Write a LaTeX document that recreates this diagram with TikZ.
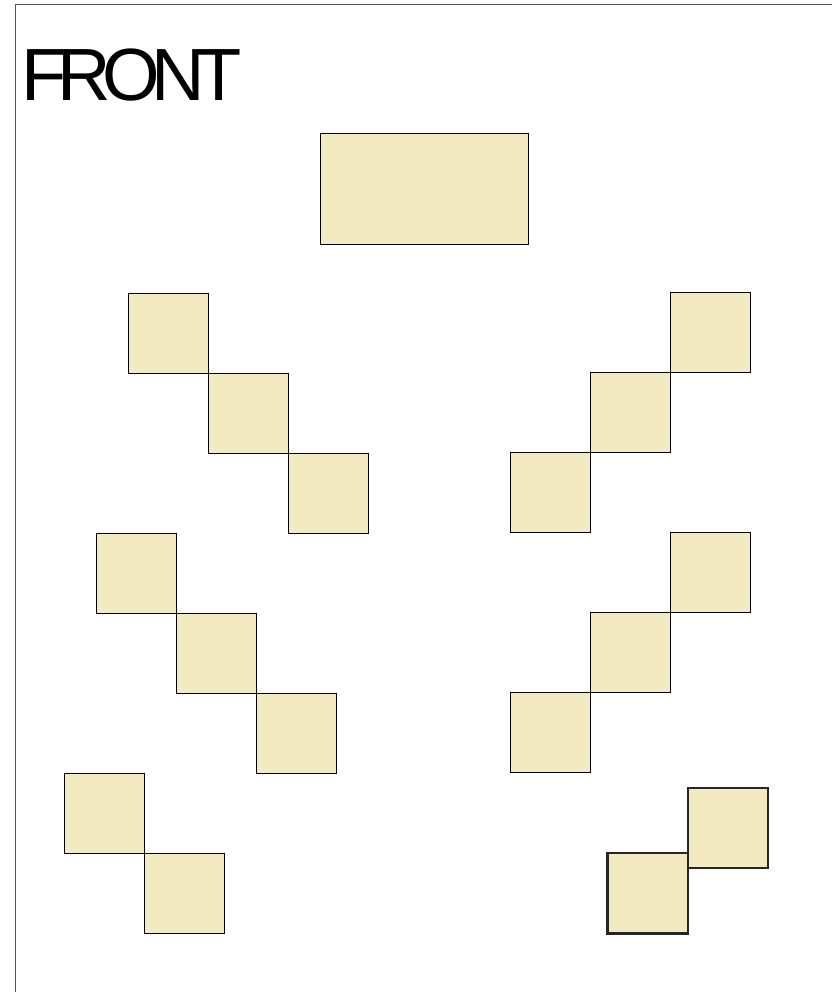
\documentclass[tikz,border=0pt]{standalone}
\usepackage{fontspec}
\setmainfont{Liberation Sans}
\definecolor{seat}{RGB}{243,234,193}
\definecolor{frame}{RGB}{85,85,85}
\begin{document}
\begin{tikzpicture}[x=1pt,y=-1pt,
  seatbox/.style={fill=seat,draw=black,line width=0.9pt},
  boldbox/.style={fill=seat,draw=black!85,line width=2.6pt}]
\useasboundingbox (0,0) rectangle (832,992);
\draw[frame,line width=1.8pt] (15.5,992) -- (15.5,4.5) -- (832,4.5);
\node[anchor=base west,inner sep=0pt,font=\fontsize{74}{74}\selectfont] (front) at (21,101)
  {F\kern-0.115em R\kern-0.115em O\kern-0.115em N\kern-0.115em T};
% table
\draw[seatbox] (320,133) rectangle (528,244);
% left group 1
\draw[seatbox] (128,293) rectangle (208,373);
\draw[seatbox] (208,373) rectangle (288,453);
\draw[seatbox] (288,453) rectangle (368,533);
% right group 1
\draw[seatbox] (670,292) rectangle (750,372);
\draw[seatbox] (590,372) rectangle (670,452);
\draw[seatbox] (510,452) rectangle (590,532);
% left group 2
\draw[seatbox] (96,533) rectangle (176,613);
\draw[seatbox] (176,613) rectangle (256,693);
\draw[seatbox] (256,693) rectangle (336,773);
% right group 2
\draw[seatbox] (670,532) rectangle (750,612);
\draw[seatbox] (590,612) rectangle (670,692);
\draw[seatbox] (510,692) rectangle (590,772);
% left group 3
\draw[seatbox] (64,773) rectangle (144,853);
\draw[seatbox] (144,853) rectangle (224,933);
% right group 3
\draw[boldbox] (688,788) rectangle (768,868);
\draw[boldbox] (607.5,853) rectangle (688,933.5);
\end{tikzpicture}
\end{document}
